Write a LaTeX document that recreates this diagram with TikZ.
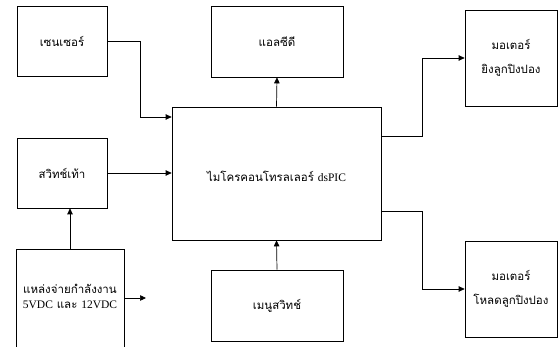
\documentclass[tikz,border=0pt]{standalone}
\usepackage{fontspec}
\setmainfont{Liberation Serif}
\newfontfamily\thai[Script=Thai]{Loma}
\usetikzlibrary{arrows.meta}
\begin{document}
\begin{tikzpicture}[x=1pt,y=-1pt,
  box/.style={draw,line width=0.7pt,inner sep=0pt,align=center,font=\thai\fontsize{11.5}{24}\selectfont},
  lbl/.style={inner sep=0pt,align=center,font=\thai\fontsize{11.5}{15}\selectfont},
  arr/.style={line width=0.7pt,-{Triangle[length=6pt,width=5.5pt]}}]
\useasboundingbox (0,0) rectangle (558,347);
\clip (0,0) rectangle (558,347);
\node[box,minimum width=90pt,minimum height=70pt] (sensor) at (62,41) {เซนเซอร์};
\node[box,minimum width=132pt,minimum height=71pt] (lcd) at (277,41.5) {แอลซีดี};
\node[box,minimum width=209pt,minimum height=133pt] (main) at (276.5,173.5) {};
\node[lbl] (maintext) at (276.5,176) {ไมโครคอนโทรลเลอร์ {\rmfamily dsPIC}};
\node[box,minimum width=90pt,minimum height=70pt] (foot) at (62,173) {สวิทช์เท้า};
\node[box,minimum width=108pt,minimum height=110pt] (power) at (70,304) {};
\node[lbl] (powertext) at (70,296) {แหล่งจ่ายกำลังงาน\\{\rmfamily 5VDC} และ {\rmfamily 12VDC}};
\node[box,minimum width=132pt,minimum height=71pt] (menu) at (277,305.5) {เมนูสวิทช์};
\node[box,minimum width=92pt,minimum height=96pt] (motor1) at (511,58) {มอเตอร์\\ยิงลูกปิงปอง};
\node[box,minimum width=92pt,minimum height=96pt] (motor2) at (511,289) {มอเตอร์\\โหลดลูกปิงปอง};
\coordinate (pwrend) at (146,298);
\draw[arr] (sensor.east) -- (140,41) |- (main.west |- 0,117);
\draw[arr] (foot.east) -- (main.west |- foot.east);
\draw[arr] (power.north -| 70,0) -- (foot.south -| 70,0);
\draw[arr] (power.east |- pwrend) -- (pwrend);
\draw[arr] (main.north) -- (lcd.south);
\draw[arr] (menu.north) -- (main.south);
\draw[arr] (main.east |- 0,136) -- (422,136) |- (motor1.west);
\draw[arr] (main.east |- 0,211) -- (422,211) |- (motor2.west);
\end{tikzpicture}
\end{document}
